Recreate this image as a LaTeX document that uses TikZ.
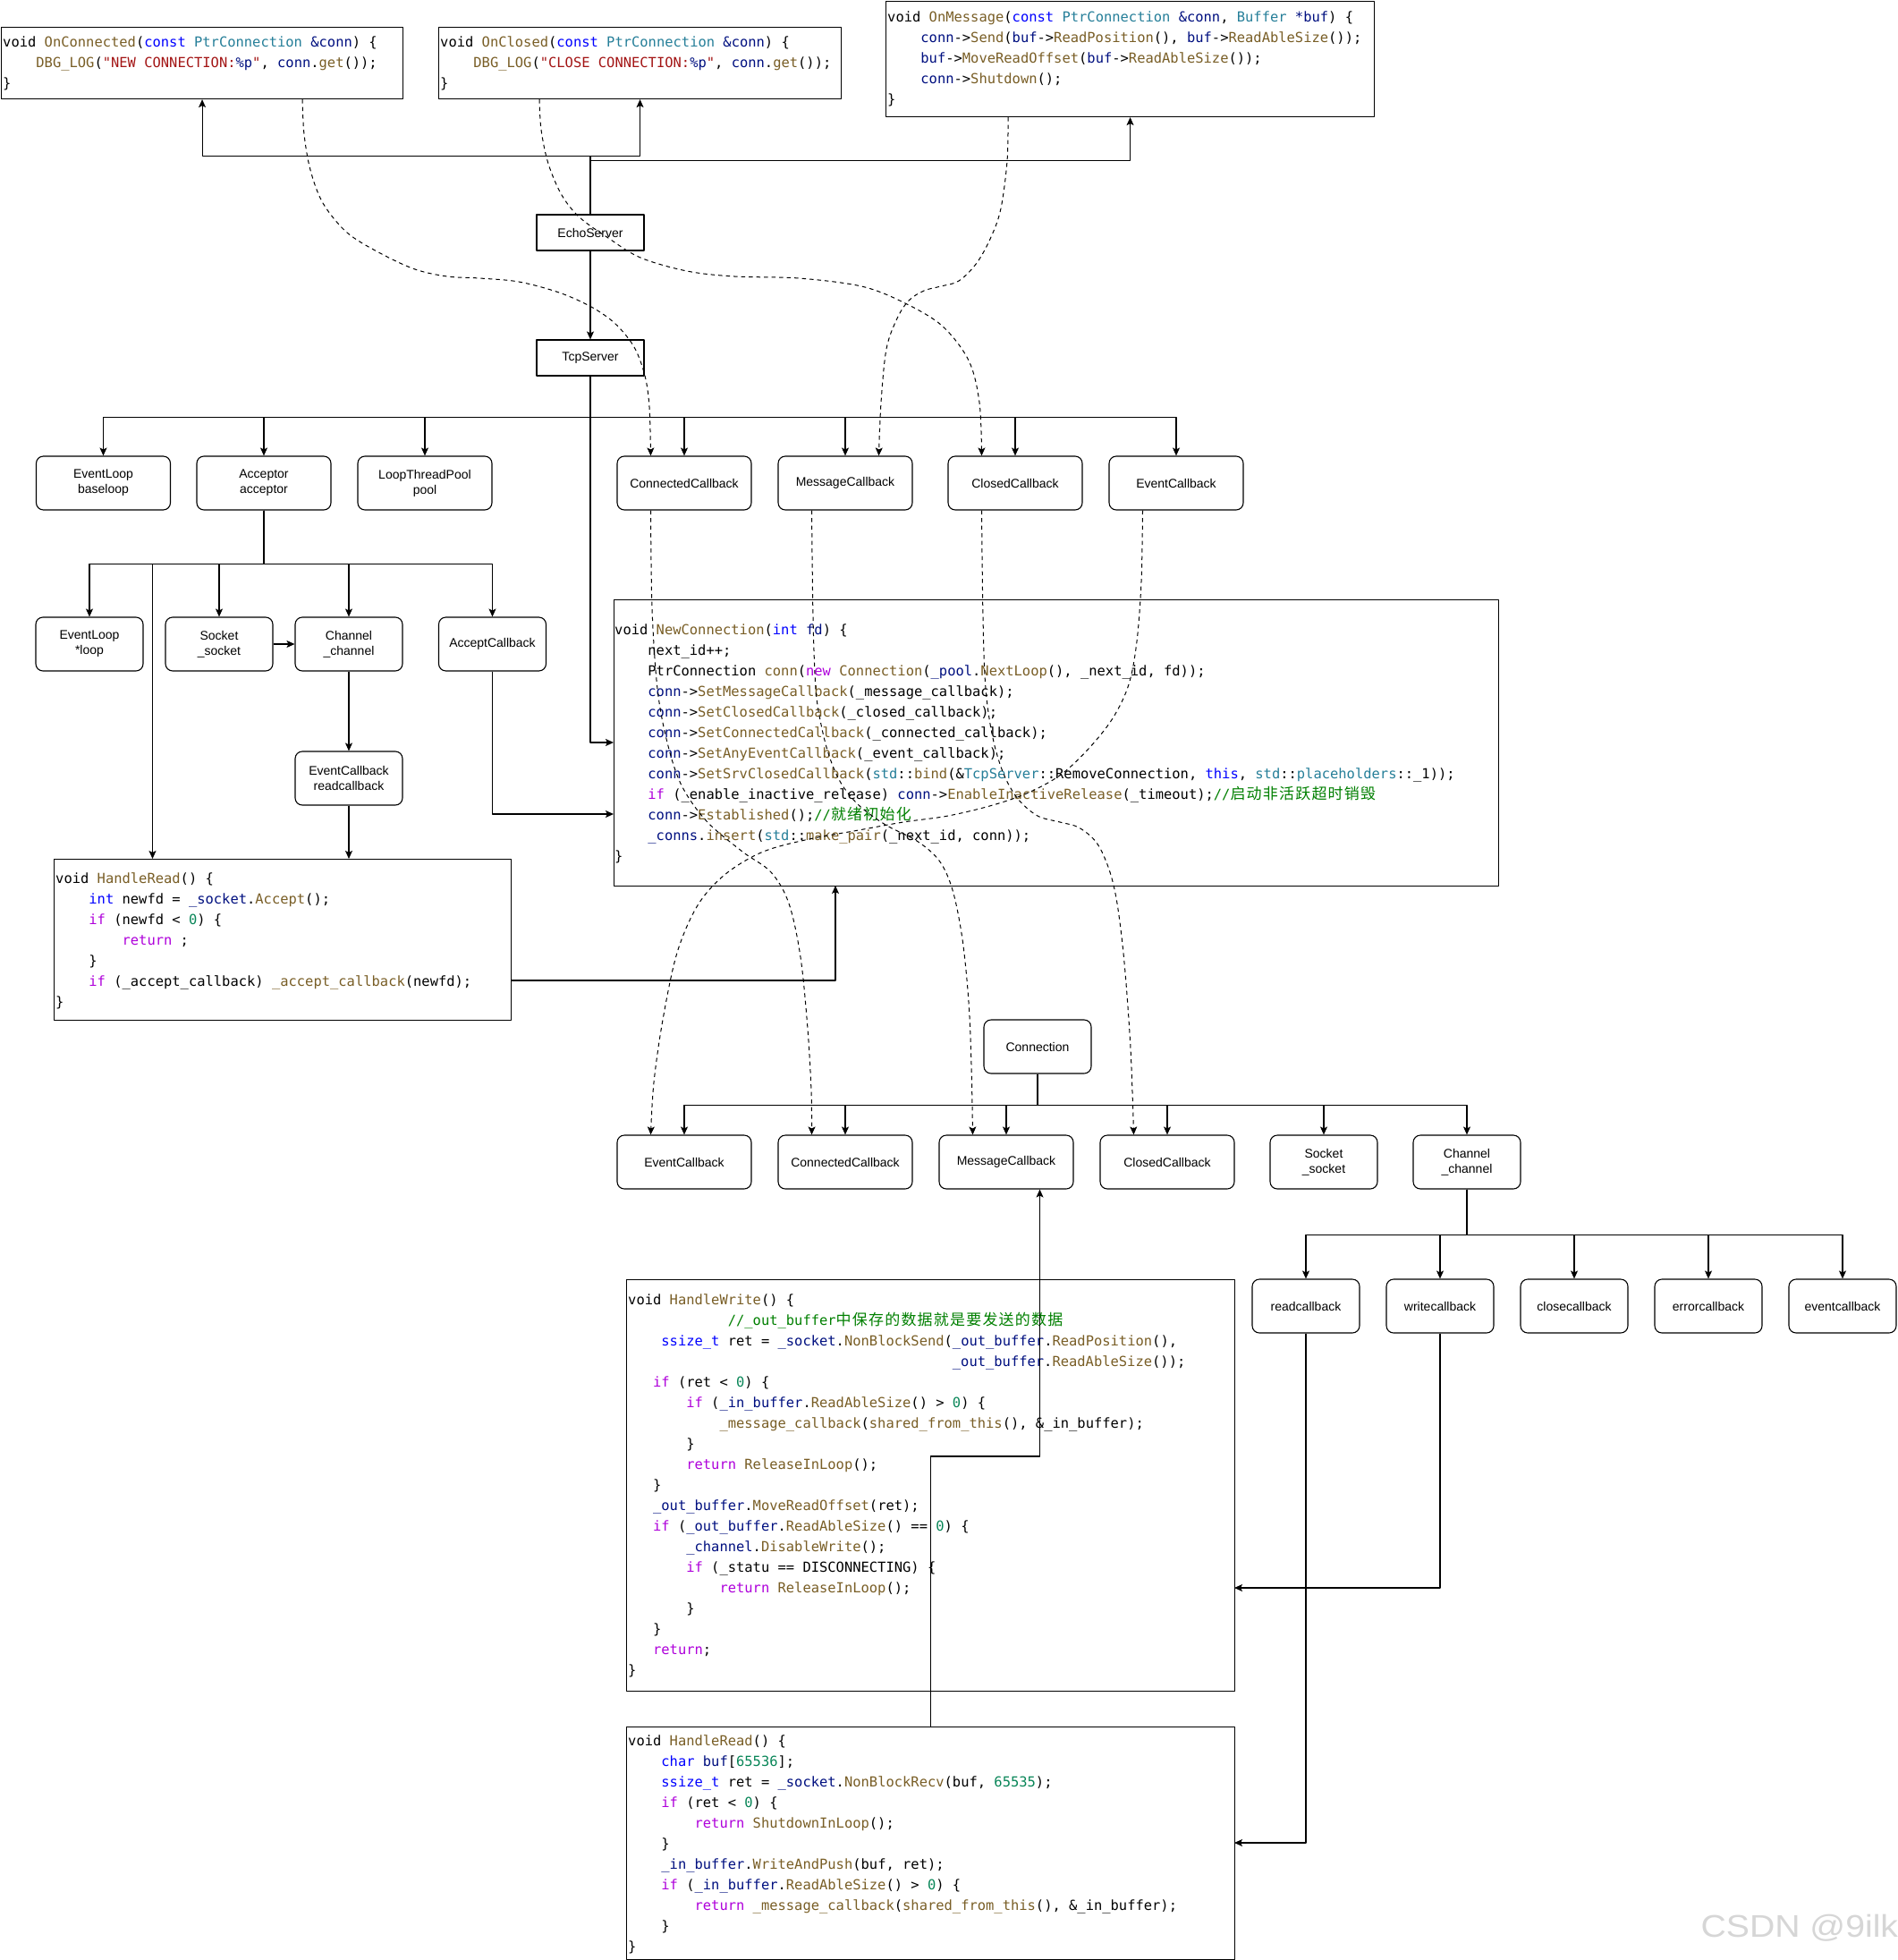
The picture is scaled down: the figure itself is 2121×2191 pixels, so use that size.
\documentclass[tikz,border=0pt]{standalone}
\usepackage{graphicx}
\usepackage{fontspec}
\setmainfont{Liberation Sans}
\newfontfamily\monof{DejaVu Sans Mono}
\newfontfamily\cjkf{Noto Sans CJK SC}
\usetikzlibrary{arrows.meta}
\definecolor{ckw}{HTML}{AF00DB}
\definecolor{cty}{HTML}{0000FF}
\definecolor{cfn}{HTML}{795E26}
\definecolor{ccl}{HTML}{267F99}
\definecolor{cva}{HTML}{001080}
\definecolor{cst}{HTML}{A31515}
\definecolor{cnu}{HTML}{098658}
\definecolor{ccm}{HTML}{008000}
\newcommand\kwd[1]{\textcolor{ckw}{#1}}
\newcommand\typ[1]{\textcolor{cty}{#1}}
\newcommand\fnc[1]{\textcolor{cfn}{#1}}
\newcommand\cls[1]{\textcolor{ccl}{#1}}
\newcommand\vrb[1]{\textcolor{cva}{#1}}
\newcommand\strg[1]{\textcolor{cst}{#1}}
\newcommand\numb[1]{\textcolor{cnu}{#1}}
\newcommand\cmt[1]{\textcolor{ccm}{#1}}
\def\spreadzh#1{\ifx\relax#1\else#1\hspace{1.2pt}\expandafter\spreadzh\fi}
\newcommand\zh[1]{{\cjkf\fontsize{17}{23}\selectfont\spreadzh#1\relax}}
\newlength\cw \setlength\cw{9.3pt}
\newcommand\codeln[2]{\hbox{\hspace*{#1\cw}#2}}
\newcommand\codeblock[1]{\vtop{\monof\fontsize{15.45}{23}\selectfont\baselineskip=23pt\lineskiplimit=-100pt\lineskip=0pt #1}}
\tikzset{
  lbl/.style={font=\fontsize{14}{17}\selectfont, align=center, inner sep=0pt},
  rbox/.style={lbl, draw, fill=white, line width=1.1pt, rounded corners=8pt, minimum width=150pt, minimum height=60pt},
  rboxs/.style={rbox, minimum width=120pt},
  sbox/.style={lbl, draw, fill=white, line width=1.1pt, minimum width=120pt, minimum height=40pt},
  cbox/.style={draw, fill=white, line width=1.1pt, anchor=north west, inner sep=0pt},
  ctext/.style={anchor=base west, inner sep=0pt},
  arr/.style={line width=1.1pt, -{Stealth[length=9pt,width=8pt,inset=2pt]}},
  darr/.style={line width=1pt, dash pattern=on 4.5pt off 4pt, -{Stealth[length=9pt,width=8pt,inset=2pt]}},
}
\begin{document}
\begin{tikzpicture}[x=1pt,y=-1pt,line join=round]
\fill[white] (0,0) rectangle (2121,2191);
\useasboundingbox (0,0) rectangle (2121,2191);

% ---------- code boxes ----------
\node[cbox, minimum width=449pt, minimum height=80pt] (onconn) at (1,30) {};
\node[cbox, minimum width=450pt, minimum height=80pt] (onclosed) at (490,30) {};
\node[cbox, minimum width=546pt, minimum height=129pt] (onmsg) at (990,1) {};
\node[cbox, minimum width=989pt, minimum height=320pt] (newconn) at (686,670) {};
\node[cbox, minimum width=511pt, minimum height=180pt] (hr1) at (60,960) {};
\node[cbox, minimum width=680pt, minimum height=460pt] (hw) at (700,1430) {};
\node[cbox, minimum width=680pt, minimum height=260pt] (hr2) at (700,1930) {};

\node[ctext] (onconn-t) at (3,53) {\codeblock{%
\codeln{0}{void \fnc{OnConnected}(\typ{const} \cls{PtrConnection} \vrb{\&conn}) \{}
\codeln{4}{\fnc{DBG\_LOG}(\strg{"NEW CONNECTION:}\vrb{\%p}\strg{"}, \vrb{conn}.\fnc{get}());}
\codeln{0}{\}}}};

\node[ctext] (onclosed-t) at (492,53) {\codeblock{%
\codeln{0}{void \fnc{OnClosed}(\typ{const} \cls{PtrConnection} \vrb{\&conn}) \{}
\codeln{4}{\fnc{DBG\_LOG}(\strg{"CLOSE CONNECTION:}\vrb{\%p}\strg{"}, \vrb{conn}.\fnc{get}());}
\codeln{0}{\}}}};

\node[ctext] (onmsg-t) at (992,25) {\codeblock{%
\codeln{0}{void \fnc{OnMessage}(\typ{const} \cls{PtrConnection} \vrb{\&conn}, \cls{Buffer} \vrb{*buf}) \{}
\codeln{4}{\vrb{conn}->\fnc{Send}(\vrb{buf}->\fnc{ReadPosition}(), \vrb{buf}->\fnc{ReadAbleSize}());}
\codeln{4}{\vrb{buf}->\fnc{MoveReadOffset}(\vrb{buf}->\fnc{ReadAbleSize}());}
\codeln{4}{\vrb{conn}->\fnc{Shutdown}();}
\codeln{0}{\}}}};

\node[ctext] (newconn-t) at (687,709) {\codeblock{%
\codeln{0}{void \fnc{NewConnection}(\typ{int} \vrb{fd}) \{}
\codeln{4}{next\_id++;}
\codeln{4}{PtrConnection \fnc{conn}(\kwd{new} \fnc{Connection}(\vrb{\_pool}.\fnc{NextLoop}(), \_next\_id, fd));}
\codeln{4}{\vrb{conn}->\fnc{SetMessageCallback}(\_message\_callback);}
\codeln{4}{\vrb{conn}->\fnc{SetClosedCallback}(\_closed\_callback);}
\codeln{4}{\vrb{conn}->\fnc{SetConnectedCallback}(\_connected\_callback);}
\codeln{4}{\vrb{conn}->\fnc{SetAnyEventCallback}(\_event\_callback);}
\codeln{4}{\vrb{conn}->\fnc{SetSrvClosedCallback}(\cls{std}::\fnc{bind}(\&\cls{TcpServer}::RemoveConnection, \typ{this}, \cls{std}::\cls{placeholders}::\_1));}
\codeln{4}{\kwd{if} (\_enable\_inactive\_release) \vrb{conn}->\fnc{EnableInactiveRelease}(\_timeout);\cmt{//\zh{启动非活跃超时销毁}}}
\codeln{4}{\vrb{conn}->\fnc{Established}();\cmt{//\zh{就绪初始化}}}
\codeln{4}{\vrb{\_conns}.\fnc{insert}(\cls{std}::\fnc{make\_pair}(\_next\_id, conn));}
\codeln{0}{\}}}};

\node[ctext] (hr1-t) at (62,987) {\codeblock{%
\codeln{0}{void \fnc{HandleRead}() \{}
\codeln{4}{\typ{int} newfd = \vrb{\_socket}.\fnc{Accept}();}
\codeln{4}{\kwd{if} (newfd < \numb{0}) \{}
\codeln{8}{\kwd{return} ;}
\codeln{4}{\}}
\codeln{4}{\kwd{if} (\_accept\_callback) \fnc{\_accept\_callback}(newfd);}
\codeln{0}{\}}}};

\node[ctext] (hw-t) at (702,1458) {\codeblock{%
\codeln{0}{void \fnc{HandleWrite}() \{}
\codeln{12}{\cmt{//\_out\_buffer\zh{中保存的数据就是要发送的数据}}}
\codeln{4}{\typ{ssize\_t} ret = \vrb{\_socket}.\fnc{NonBlockSend}(\vrb{\_out\_buffer}.\fnc{ReadPosition}(),}
\codeln{39}{\vrb{\_out\_buffer}.\fnc{ReadAbleSize}());}
\codeln{3}{\kwd{if} (ret < \numb{0}) \{}
\codeln{7}{\kwd{if} (\vrb{\_in\_buffer}.\fnc{ReadAbleSize}() > \numb{0}) \{}
\codeln{11}{\fnc{\_message\_callback}(\fnc{shared\_from\_this}(), \&\_in\_buffer);}
\codeln{7}{\}}
\codeln{7}{\kwd{return} \fnc{ReleaseInLoop}();}
\codeln{3}{\}}
\codeln{3}{\vrb{\_out\_buffer}.\fnc{MoveReadOffset}(ret);}
\codeln{3}{\kwd{if} (\vrb{\_out\_buffer}.\fnc{ReadAbleSize}() == \numb{0}) \{}
\codeln{7}{\vrb{\_channel}.\fnc{DisableWrite}();}
\codeln{7}{\kwd{if} (\_statu == DISCONNECTING) \{}
\codeln{11}{\kwd{return} \fnc{ReleaseInLoop}();}
\codeln{7}{\}}
\codeln{3}{\}}
\codeln{3}{\kwd{return};}
\codeln{0}{\}}}};

\node[ctext] (hr2-t) at (702,1951) {\codeblock{%
\codeln{0}{void \fnc{HandleRead}() \{}
\codeln{4}{\typ{char} \vrb{buf}[\numb{65536}];}
\codeln{4}{\typ{ssize\_t} ret = \vrb{\_socket}.\fnc{NonBlockRecv}(buf, \numb{65535});}
\codeln{4}{\kwd{if} (ret < \numb{0}) \{}
\codeln{8}{\kwd{return} \fnc{ShutdownInLoop}();}
\codeln{4}{\}}
\codeln{4}{\vrb{\_in\_buffer}.\fnc{WriteAndPush}(buf, ret);}
\codeln{4}{\kwd{if} (\vrb{\_in\_buffer}.\fnc{ReadAbleSize}() > \numb{0}) \{}
\codeln{8}{\kwd{return} \fnc{\_message\_callback}(\fnc{shared\_from\_this}(), \&\_in\_buffer);}
\codeln{4}{\}}
\codeln{0}{\}}}};

% ---------- class nodes ----------
\node[sbox] (echo) at (660,260) {EchoServer};
\node[sbox] (tcp) at (660,400) {TcpServer};

\node[rbox] (evl) at (115.5,540) {EventLoop\\baseloop};
\node[rbox] (acc) at (295,540) {Acceptor\\acceptor};
\node[rbox] (ltp) at (475,540) {LoopThreadPool\\pool};
\node[rbox] (ccb1) at (765,540) {ConnectedCallback};
\node[rbox] (mcb1) at (945,540) {MessageCallback};
\node[rbox] (clcb1) at (1135,540) {ClosedCallback};
\node[rbox] (ecb1) at (1315,540) {EventCallback};

\node[rboxs] (evl2) at (100,720) {EventLoop\\*loop};
\node[rboxs] (sock) at (245,720) {Socket\\\_socket};
\node[rboxs] (chan) at (390,720) {Channel\\\_channel};
\node[rboxs] (acb) at (550.5,720) {AcceptCallback};
\node[rboxs] (ecbr) at (390,870) {EventCallback\\readcallback};

\node[rboxs] (conn) at (1160,1170) {Connection};
\node[rbox] (ecb2) at (765,1299) {EventCallback};
\node[rbox] (ccb2) at (945,1299) {ConnectedCallback};
\node[rbox] (mcb2) at (1125,1299) {MessageCallback};
\node[rbox] (clcb2) at (1305,1299) {ClosedCallback};
\node[rboxs] (sock2) at (1480,1299) {Socket\\\_socket};
\node[rboxs] (chan2) at (1640,1299) {Channel\\\_channel};

\node[rboxs] (rcb) at (1460,1460) {readcallback};
\node[rboxs] (wcb) at (1610,1460) {writecallback};
\node[rboxs] (ccb3) at (1760,1460) {closecallback};
\node[rboxs] (errcb) at (1910,1460) {errorcallback};
\node[rboxs] (evcb) at (2060,1460) {eventcallback};

\node[anchor=base west, font=\fontsize{35}{35}\selectfont, text=black!16] (wm) at (1898,2165) {\scalebox{1.12}[1]{CSDN @9ilk}};

% ---------- anchor coordinates ----------
\coordinate (ncTcp) at (686,830);
\coordinate (ncAcb) at (686,910);
\coordinate (ncBot) at (934,990);
\coordinate (hr1R) at (571,1096);
\coordinate (hr1A) at (170.5,960);
\coordinate (hr2R) at (1380,2060);
\coordinate (hwR) at (1380,1775);
\coordinate (mcb2B) at ([xshift=37.5pt]mcb2.south);

% ---------- solid connectors ----------
\draw[arr] (echo.north) -- ++(0,-65) -| (onconn.south);
\draw[arr] (echo.north) -- ++(0,-65) -| (onclosed.south);
\draw[arr] (echo.north) -- ++(0,-60) -| (onmsg.south);
\draw[arr] (echo) -- (tcp);
\foreach \n in {evl,acc,ltp,ccb1,mcb1,clcb1,ecb1}
  \draw[arr] (tcp.south) -- ++(0,46) -| (\n.north);
\draw[arr] (tcp.south) |- (ncTcp);
\foreach \n in {evl2,sock,chan,acb}
  \draw[arr] (acc.south) -- ++(0,60) -| (\n.north);
\draw[arr] (acc.south) -- ++(0,60) -| (hr1A);
\draw[arr] (sock) -- (chan);
\draw[arr] (chan) -- (ecbr);
\draw[arr] (ecbr.south) -- (ecbr.south |- hr1.north);
\draw[arr] (acb.south) |- (ncAcb);
\draw[arr] (hr1R) -| (ncBot);
\foreach \n in {ecb2,ccb2,mcb2,clcb2,sock2,chan2}
  \draw[arr] (conn.south) -- ++(0,35) -| (\n.north);
\foreach \n in {rcb,wcb,ccb3,errcb,evcb}
  \draw[arr] (chan2.south) -- ++(0,51) -| (\n.north);
\draw[arr] (rcb.south) |- (hr2R);
\draw[arr] (wcb.south) |- (hwR);
\draw[arr] (hr2.north) -- ++(0,-302) -| (mcb2B);

% ---------- dashed curved connectors ----------
\coordinate (dE0) at ([xshift=112pt]onconn.south);
\coordinate (dE1) at ([xshift=-37.5pt]ccb1.north);
\coordinate (dF0) at ([xshift=-112.5pt]onclosed.south);
\coordinate (dF1) at ([xshift=-37.5pt]clcb1.north);
\coordinate (dG0) at ([xshift=-136.5pt]onmsg.south);
\coordinate (dG1) at ([xshift=37.5pt]mcb1.north);
\coordinate (dA0) at ([xshift=-37.5pt]ccb1.south);
\coordinate (dA1) at ([xshift=-37.5pt]ccb2.north);
\coordinate (dB0) at ([xshift=-37.5pt]mcb1.south);
\coordinate (dB1) at ([xshift=-37.5pt]mcb2.north);
\coordinate (dC0) at ([xshift=-37.5pt]clcb1.south);
\coordinate (dC1) at ([xshift=-37.5pt]clcb2.north);
\coordinate (dD0) at ([xshift=-37.5pt]ecb1.south);
\coordinate (dD1) at ([xshift=-37.5pt]ecb2.north);

\draw[darr] plot[smooth,tension=0.55] coordinates {(dE0) (340,150) (347,190) (361,227) (388,260) (425,283) (464,301) (500,309) (536,311) (580,315) (625,327) (661,343) (688,362) (709,388) (721,420) (726,455) (dE1)};
\draw[darr] plot[smooth,tension=0.55] coordinates {(dF0) (605,145) (613,183) (628,218) (648,243) (680,266) (716,288) (768,303) (821,309) (893,311) (963,320) (1010,338) (1053,364) (1083,403) (1095,450) (dF1)};
\draw[darr] plot[smooth,tension=0.55] coordinates {(dG0) (1126,180) (1119,233) (1108,265) (1092,294) (1072,314) (1052,320) (1033,325) (1016,336) (1003,356) (991,390) (985,450) (dG1)};
\draw[darr] plot[smooth,tension=0.55] coordinates {(dA0) (729,680) (735,770) (746,830) (762,878) (790,918) (830,952) (862,975) (882,1010) (895,1070) (903,1150) (907,1220) (dA1)};
\draw[darr] plot[smooth,tension=0.55] coordinates {(dB0) (909,690) (912,770) (918,810) (927,845) (940,875) (960,900) (990,922) (1025,940) (1050,962) (1065,995) (1076,1050) (1083,1120) (1086,1190) (dB1)};
\draw[darr] plot[smooth,tension=0.55] coordinates {(dC0) (1099,690) (1102,770) (1110,825) (1122,865) (1138,893) (1160,912) (1185,919) (1206,925) (1226,942) (1240,972) (1249,1010) (1257,1076) (1264,1172) (dC1)};
\draw[darr] plot[smooth,tension=0.55] coordinates {(dD0) (1276,650) (1271,717) (1262,765) (1244,803) (1217,837) (1186,866) (1150,886) (1110,900) (1060,912) (1010,919) (960,928) (900,939) (851,953) (810,978) (780,1012) (757,1065) (741,1140) (731,1210) (dD1)};
\end{tikzpicture}
\end{document}
